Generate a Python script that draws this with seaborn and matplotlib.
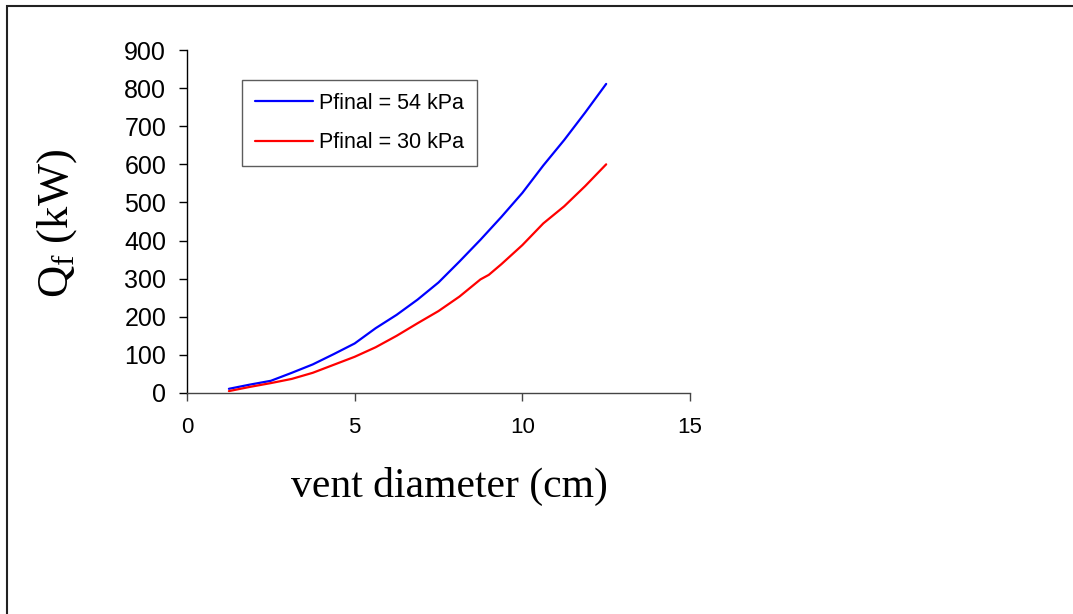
import matplotlib
matplotlib.use("Agg")
import matplotlib.pyplot as plt
import matplotlib.patches as mpatches
import seaborn as sns
import pandas as pd

# ---- data ----
diam_54 = [1.25, 1.875, 2.5, 3.125, 3.75, 4.375, 5.0, 5.625, 6.25, 6.875,
           7.5, 8.125, 8.75, 9.375, 10.0, 10.625, 11.25, 11.875, 12.5]
q_54 = [11, 22, 32, 53, 75, 102, 130, 170, 205, 245,
        290, 345, 402, 462, 525, 597, 664, 736, 811]

diam_30 = [1.25, 1.875, 2.5, 3.125, 3.75, 4.375, 5.0, 5.625, 6.25, 6.875,
           7.5, 8.125, 8.75, 9.0, 9.375, 10.0, 10.625, 11.25, 11.875, 12.5]
q_30 = [5, 16, 26, 37, 53, 74, 95, 120, 150, 183,
        215, 253, 298, 310, 338, 388, 445, 490, 543, 600]

series_labels = ["Pfinal = 54 kPa", "Pfinal = 30 kPa"]
series_colors = ["#0000FF", "#FF0000"]
x_ticks = [0, 5, 10, 15]
y_ticks = [0, 100, 200, 300, 400, 500, 600, 700, 800, 900]

df = pd.concat([
    pd.DataFrame({"d": diam_54, "q": q_54, "series": series_labels[0]}),
    pd.DataFrame({"d": diam_30, "q": q_30, "series": series_labels[1]}),
], ignore_index=True)

sns.set_style("white")
plt.rcParams["font.family"] = ["Liberation Sans", "DejaVu Sans"]
plt.rcParams["mathtext.fontset"] = "custom"
plt.rcParams["mathtext.rm"] = "Liberation Serif"
plt.rcParams["mathtext.it"] = "Liberation Serif:italic"
plt.rcParams["text.color"] = "black"
plt.rcParams["axes.labelcolor"] = "black"
plt.rcParams["xtick.color"] = "black"
plt.rcParams["ytick.color"] = "black"

W, H = 1073, 614
fig = plt.figure(figsize=(W / 100, H / 100), dpi=100)
fig.patch.set_facecolor("white")

# axes placement (pixels from reference)
left, right, top, bottom = 187, 690, 50, 393
ax = fig.add_axes([left / W, 1 - bottom / H, (right - left) / W, (bottom - top) / H])

sns.lineplot(data=df, x="d", y="q", hue="series", hue_order=series_labels,
             palette=series_colors, linewidth=1.6, ax=ax, sort=False,
             estimator=None)

ax.set_xlim(0, 15)
ax.set_ylim(0, 900)
ax.set_xticks(x_ticks)
ax.set_yticks(y_ticks)
ax.set_xticklabels([str(v) for v in x_ticks])
ax.set_yticklabels([str(v) for v in y_ticks])

for s in ["top", "right"]:
    ax.spines[s].set_visible(False)
ax.spines["left"].set_color("black")
ax.spines["bottom"].set_color("#444444")
ax.spines["left"].set_linewidth(1.0)
ax.spines["bottom"].set_linewidth(1.0)

ax.tick_params(axis="y", which="major", direction="out", length=6, width=1,
               color="black", labelcolor="black", labelsize=18, pad=9, left=True)
ax.tick_params(axis="x", which="major", direction="out", length=6, width=1,
               color="#444444", labelcolor="black", labelsize=16, pad=11, bottom=True)

ax.set_xlabel("vent diameter (cm)", fontsize=30, family="Liberation Serif",
              va="center", color="black")
ax.xaxis.set_label_coords((449 - left) / (right - left), (bottom - 486) / (bottom - top))
ax.set_ylabel(r"Q$_{\mathrm{f}}$ (kW)", fontsize=32, family="Liberation Serif",
              va="center", color="black")
ax.yaxis.set_label_coords((57 - left) / (right - left), (bottom - 224) / (bottom - top))

leg = ax.legend(loc="upper left",
                bbox_to_anchor=((242 - left) / (right - left), (bottom - 80) / (bottom - top)),
                borderaxespad=0, fontsize=15.5, frameon=True, fancybox=False,
                handlelength=2.7, handletextpad=0.3, borderpad=0.6, labelspacing=0.85,
                title=None)
leg.get_frame().set_edgecolor("#333333")
leg.get_frame().set_linewidth(1.0)
for line in leg.get_lines():
    line.set_linewidth(1.6)
for t in leg.get_texts():
    t.set_color("black")

# outer frame (cut off at the right and bottom as in the reference)
frame = mpatches.Rectangle((7 / W, -0.1), 1.2, 1 - 5.5 / H + 0.1,
                           transform=fig.transFigure, fill=False,
                           edgecolor="#222222", linewidth=1.5, clip_on=False)
fig.patches.append(frame)

fig.savefig("out.png", dpi=100, facecolor="white")
